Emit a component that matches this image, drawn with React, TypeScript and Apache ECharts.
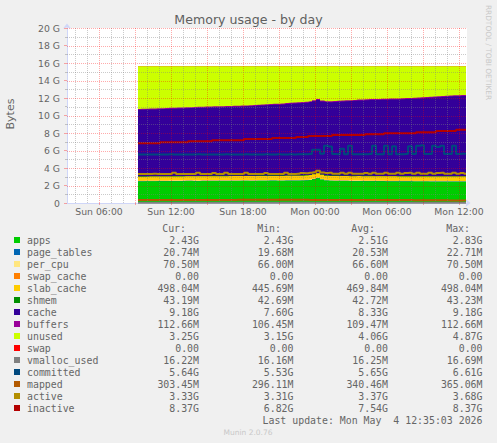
import React, { useEffect, useRef } from "react";
import * as echarts from "echarts";

// ---- time grid (minutes since Sun 00:00), one sample each 20 minutes ----
const START_MIN = 555; // Sun 09:15
const STEP_MIN = 20;
const X_MIN = 200; // Sun 03:20
const X_MAX = 2200; // Mon 12:40
const Y_MIN = 0;
const Y_MAX = 20;

const X_LABEL_VALUES = [360, 720, 1080, 1440, 1800, 2160];
const X_LABELS = ["Sun 06:00", "Sun 12:00", "Sun 18:00", "Mon 00:00", "Mon 06:00", "Mon 12:00"];
const X_MAJOR_GRID = [360, 540, 720, 900, 1080, 1260, 1440, 1620, 1800, 1980, 2160];
const X_MINOR_GRID = [240, 300, 420, 480, 600, 660, 780, 840, 960, 1020, 1140, 1200, 1320, 1380, 1500, 1560, 1680, 1740, 1860, 1920, 2040, 2100];
const Y_TICKS = [0, 2, 4, 6, 8, 10, 12, 14, 16, 18, 20];
const Y_TICK_LABELS = ["0", "2 G", "4 G", "6 G", "8 G", "10 G", "12 G", "14 G", "16 G", "18 G", "20 G"];
const Y_MAJOR_GRID = [2, 4, 6, 8, 10, 12, 14, 16, 18, 20];
const Y_MINOR_GRID = [1, 3, 5, 7, 9, 11, 13, 15, 17, 19];

// ---- series values in GB ----
const APPS = [2.47,2.47,2.48,2.48,2.48,2.49,2.49,2.49,2.50,2.50,
 2.50,2.50,2.51,2.51,2.50,2.50,2.51,2.51,2.52,2.52,
 2.52,2.51,2.51,2.52,2.52,2.52,2.53,2.53,2.52,2.52,
 2.53,2.53,2.53,2.54,2.54,2.53,2.53,2.54,2.54,2.55,
 2.55,2.56,2.58,2.62,2.72,2.83,2.66,2.56,2.53,2.52,
 2.52,2.51,2.51,2.50,2.50,2.50,2.49,2.49,2.49,2.48,
 2.48,2.48,2.47,2.47,2.47,2.46,2.46,2.46,2.46,2.45,
 2.45,2.45,2.45,2.44,2.44,2.44,2.44,2.44,2.43,2.43,
 2.43,2.43,2.43];
const PAGE_TABLES = [0.0200,0.0201,0.0199,0.0198,0.0200,0.0202,0.0201,0.0203,0.0204,0.0202,
 0.0203,0.0205,0.0204,0.0206,0.0205,0.0203,0.0204,0.0206,0.0207,0.0205,
 0.0204,0.0206,0.0208,0.0207,0.0205,0.0206,0.0208,0.0209,0.0207,0.0206,
 0.0205,0.0207,0.0209,0.0208,0.0206,0.0207,0.0209,0.0210,0.0208,0.0207,
 0.0209,0.0211,0.0214,0.0219,0.0224,0.0227,0.0218,0.0212,0.0209,0.0207,
 0.0206,0.0205,0.0207,0.0206,0.0204,0.0205,0.0206,0.0204,0.0203,0.0205,
 0.0206,0.0204,0.0203,0.0205,0.0207,0.0206,0.0204,0.0205,0.0206,0.0207,
 0.0205,0.0204,0.0206,0.0207,0.0205,0.0206,0.0208,0.0207,0.0205,0.0206,
 0.0207,0.0206,0.0207];
const PER_CPU = [0.066,0.066,0.066,0.066,0.066,0.066,0.066,0.066,0.066,0.066,
 0.066,0.066,0.066,0.066,0.066,0.066,0.066,0.066,0.066,0.066,
 0.066,0.066,0.066,0.066,0.066,0.066,0.066,0.066,0.066,0.066,
 0.066,0.066,0.066,0.066,0.066,0.066,0.066,0.066,0.066,0.066,
 0.066,0.066,0.066,0.066,0.066,0.066,0.066,0.066,0.066,0.066,
 0.066,0.066,0.066,0.066,0.066,0.066,0.066,0.066,0.066,0.066,
 0.066,0.066,0.066,0.066,0.066,0.066,0.066,0.066,0.066,0.066,
 0.066,0.066,0.0705,0.0705,0.0705,0.0705,0.0705,0.0705,0.0705,0.0705,
 0.0705,0.0705,0.0705];
const SWAP_CACHE = [0,0,0,0,0,0,0,0,0,0, 0,0,0,0,0,0,0,0,0,0, 0,0,0,0,0,0,0,0,0,0,
 0,0,0,0,0,0,0,0,0,0, 0,0,0,0,0,0,0,0,0,0, 0,0,0,0,0,0,0,0,0,0,
 0,0,0,0,0,0,0,0,0,0, 0,0,0,0,0,0,0,0,0,0, 0,0,0];
const SLAB_CACHE = [0.446,0.447,0.448,0.449,0.450,0.451,0.452,0.452,0.453,0.454,
 0.455,0.455,0.456,0.457,0.458,0.459,0.460,0.460,0.461,0.462,
 0.463,0.463,0.464,0.465,0.466,0.467,0.468,0.468,0.469,0.470,
 0.470,0.471,0.472,0.472,0.473,0.474,0.474,0.475,0.476,0.476,
 0.477,0.477,0.478,0.479,0.479,0.480,0.480,0.481,0.481,0.482,
 0.482,0.483,0.483,0.484,0.484,0.485,0.485,0.486,0.486,0.487,
 0.487,0.488,0.488,0.489,0.489,0.490,0.490,0.491,0.491,0.492,
 0.492,0.493,0.493,0.494,0.494,0.495,0.495,0.496,0.496,0.497,
 0.497,0.498,0.498];
const SHMEM = [0.0427,0.0427,0.0427,0.0427,0.0427,0.0427,0.0427,0.0427,0.0427,0.0427,
 0.0427,0.0427,0.0427,0.0427,0.0427,0.0427,0.0427,0.0427,0.0427,0.0427,
 0.0427,0.0427,0.0427,0.0427,0.0427,0.0426,0.0427,0.0427,0.0427,0.0427,
 0.0427,0.0427,0.0427,0.0427,0.0427,0.0427,0.0427,0.0427,0.0427,0.0427,
 0.0427,0.0427,0.0428,0.0428,0.0429,0.0430,0.0428,0.0427,0.0427,0.0427,
 0.0427,0.0427,0.0427,0.0427,0.0427,0.0427,0.0427,0.0427,0.0427,0.0427,
 0.0427,0.0427,0.0427,0.0427,0.0427,0.0427,0.0427,0.0427,0.0427,0.0427,
 0.0428,0.0428,0.0428,0.0429,0.0429,0.0430,0.0430,0.0431,0.0431,0.0431,
 0.0432,0.0432,0.0432];
const CACHE = [7.60,7.61,7.62,7.63,7.64,7.65,7.66,7.68,7.69,7.70,
 7.71,7.72,7.74,7.75,7.77,7.79,7.80,7.81,7.82,7.83,
 7.84,7.85,7.86,7.87,7.88,7.89,7.90,7.92,7.95,7.98,
 8.00,8.02,8.04,8.06,8.08,8.10,8.13,8.16,8.19,8.21,
 8.24,8.26,8.28,8.30,8.31,8.32,8.34,8.36,8.38,8.41,
 8.44,8.47,8.50,8.53,8.56,8.60,8.62,8.64,8.66,8.67,
 8.68,8.70,8.72,8.73,8.74,8.76,8.78,8.80,8.82,8.84,
 8.86,8.89,8.92,8.95,8.98,9.01,9.04,9.07,9.10,9.13,
 9.15,9.17,9.18];
const BUFFERS = [0.107,0.107,0.107,0.107,0.107,0.107,0.107,0.107,0.107,0.107,
 0.107,0.107,0.108,0.108,0.108,0.108,0.108,0.108,0.108,0.108,
 0.108,0.108,0.108,0.108,0.109,0.109,0.109,0.109,0.109,0.109,
 0.109,0.109,0.109,0.109,0.109,0.109,0.110,0.110,0.110,0.110,
 0.110,0.110,0.110,0.110,0.110,0.110,0.110,0.110,0.111,0.111,
 0.111,0.111,0.111,0.111,0.111,0.111,0.111,0.111,0.111,0.111,
 0.112,0.112,0.112,0.112,0.112,0.112,0.112,0.112,0.112,0.112,
 0.112,0.112,0.113,0.113,0.113,0.113,0.113,0.113,0.113,0.113,
 0.113,0.113,0.113];
const UNUSED = [4.87,4.86,4.84,4.83,4.81,4.79,4.78,4.76,4.74,4.73,
 4.72,4.71,4.68,4.67,4.66,4.63,4.61,4.60,4.58,4.57,
 4.56,4.56,4.55,4.53,4.52,4.50,4.48,4.46,4.44,4.41,
 4.38,4.36,4.34,4.31,4.29,4.28,4.25,4.21,4.18,4.15,
 4.11,4.08,4.04,3.98,3.87,3.75,3.90,3.98,3.99,3.97,
 3.94,3.92,3.89,3.87,3.84,3.80,3.79,3.76,3.74,3.74,
 3.73,3.71,3.70,3.69,3.68,3.67,3.65,3.63,3.61,3.60,
 3.58,3.55,3.51,3.49,3.46,3.43,3.40,3.37,3.35,3.32,
 3.30,3.28,3.26];
const SWAP = [0,0,0,0,0,0,0,0,0,0, 0,0,0,0,0,0,0,0,0,0, 0,0,0,0,0,0,0,0,0,0,
 0,0,0,0,0,0,0,0,0,0, 0,0,0,0,0,0,0,0,0,0, 0,0,0,0,0,0,0,0,0,0,
 0,0,0,0,0,0,0,0,0,0, 0,0,0,0,0,0,0,0,0,0, 0,0,0];
const VMALLOC_USED = [0.0162,0.0162,0.0162,0.0162,0.0162,0.0162,0.0162,0.0162,0.0162,0.0162,
 0.0162,0.0162,0.0162,0.0162,0.0162,0.0162,0.0162,0.0162,0.0162,0.0162,
 0.0162,0.0162,0.0162,0.0162,0.0162,0.0162,0.0162,0.0162,0.0163,0.0162,
 0.0162,0.0162,0.0162,0.0162,0.0162,0.0162,0.0162,0.0162,0.0162,0.0162,
 0.0162,0.0163,0.0164,0.0165,0.0166,0.0167,0.0164,0.0163,0.0162,0.0162,
 0.0162,0.0162,0.0162,0.0162,0.0162,0.0162,0.0162,0.0162,0.0162,0.0162,
 0.0162,0.0162,0.0162,0.0162,0.0162,0.0162,0.0162,0.0162,0.0162,0.0162,
 0.0162,0.0162,0.0162,0.0162,0.0162,0.0162,0.0162,0.0162,0.0162,0.0162,
 0.0162,0.0162,0.0162];
const COMMITTED = [5.55,5.55,5.55,5.54,5.55,5.55,5.55,5.55,5.56,5.55,
 5.55,5.55,5.55,5.55,5.55,5.56,5.55,5.55,5.55,5.55,
 5.55,5.55,5.56,5.55,5.55,5.55,5.55,5.56,5.55,5.55,
 5.55,5.55,5.56,5.55,5.55,5.56,5.55,5.55,5.56,5.55,
 5.56,5.56,5.56,5.60,6.08,6.10,5.62,6.55,6.45,5.60,
 5.58,6.20,5.58,6.55,5.58,5.58,5.58,5.58,5.59,6.55,
 5.58,5.58,6.55,5.58,6.50,5.58,5.58,5.59,6.50,5.59,
 6.55,6.61,5.59,5.60,6.55,6.40,6.55,5.60,5.60,6.55,
 5.61,5.62,5.64];
const MAPPED = [0.330,0.332,0.334,0.335,0.337,0.338,0.340,0.341,0.342,0.343,
 0.344,0.345,0.346,0.347,0.348,0.349,0.350,0.351,0.352,0.353,
 0.354,0.355,0.356,0.356,0.357,0.358,0.358,0.359,0.359,0.360,
 0.360,0.361,0.361,0.362,0.362,0.363,0.363,0.364,0.364,0.365,
 0.365,0.364,0.360,0.350,0.340,0.335,0.338,0.340,0.342,0.343,
 0.344,0.345,0.346,0.346,0.347,0.347,0.348,0.348,0.349,0.349,
 0.350,0.350,0.349,0.348,0.346,0.344,0.340,0.336,0.332,0.328,
 0.324,0.320,0.316,0.312,0.309,0.306,0.304,0.302,0.300,0.298,
 0.297,0.300,0.303];
const ACTIVE = [3.32,3.32,3.32,3.32,3.33,3.32,3.32,3.32,3.32,3.45,
 3.32,3.32,3.32,3.32,3.32,3.46,3.32,3.32,3.32,3.44,
 3.32,3.32,3.45,3.32,3.32,3.32,3.32,3.46,3.32,3.32,
 3.32,3.32,3.44,3.32,3.32,3.32,3.32,3.45,3.32,3.32,
 3.33,3.44,3.40,3.45,3.52,3.68,3.50,3.42,3.46,3.34,
 3.33,3.47,3.33,3.45,3.33,3.33,3.33,3.44,3.33,3.46,
 3.33,3.33,3.46,3.33,3.33,3.45,3.33,3.44,3.46,3.33,
 3.45,3.33,3.33,3.46,3.33,3.44,3.45,3.33,3.33,3.46,
 3.33,3.44,3.33];
const INACTIVE = [6.82,6.82,6.82,6.82,6.82,6.82,6.93,6.93,6.93,6.93,
 6.93,6.93,6.93,7.05,7.05,7.05,7.05,7.05,7.05,7.16,
 7.16,7.16,7.16,7.16,7.16,7.16,7.16,7.32,7.32,7.32,
 7.32,7.32,7.32,7.32,7.43,7.43,7.43,7.43,7.43,7.43,
 7.55,7.55,7.55,7.66,7.66,7.66,7.66,7.66,7.66,7.78,
 7.78,7.78,7.78,7.78,7.78,7.78,7.78,7.85,7.85,7.85,
 7.85,7.85,7.97,7.97,7.97,7.97,7.97,7.97,7.97,7.97,
 8.08,8.08,8.08,8.08,8.08,8.24,8.24,8.24,8.24,8.24,
 8.36,8.37,8.37];

// ---- legend table ----
const NAMES = ["apps", "page_tables", "per_cpu", "swap_cache", "slab_cache", "shmem", "cache", "buffers", "unused", "swap", "vmalloc_used", "committed", "mapped", "active", "inactive"];
const COLORS = ["#00CC00", "#0066B3", "#FFE680", "#FF8000", "#FFCC00", "#008F00", "#330099", "#990099", "#CCFF00", "#FF0000", "#808080", "#00487D", "#B35A00", "#B38F00", "#B30000"];
const CUR = ["2.43G", "20.74M", "70.50M", "0.00", "498.04M", "43.19M", "9.18G", "112.66M", "3.25G", "0.00", "16.22M", "5.64G", "303.45M", "3.33G", "8.37G"];
const MIN = ["2.43G", "19.68M", "66.00M", "0.00", "445.69M", "42.69M", "7.60G", "106.45M", "3.15G", "0.00", "16.16M", "5.53G", "296.11M", "3.31G", "6.82G"];
const AVG = ["2.51G", "20.53M", "66.60M", "0.00", "469.84M", "42.72M", "8.33G", "109.47M", "4.06G", "0.00", "16.25M", "5.65G", "340.46M", "3.37G", "7.54G"];
const MAX = ["2.83G", "22.71M", "70.50M", "0.00", "498.04M", "43.23M", "9.18G", "112.66M", "4.87G", "0.00", "16.69M", "6.61G", "365.06M", "3.68G", "8.37G"];
const HEADERS = ["Cur:", "Min:", "Avg:", "Max:"];
const TITLE = "Memory usage - by day";
const LAST_UPDATE = "Last update: Mon May  4 12:35:03 2026";

const AREA_SERIES = [APPS, PAGE_TABLES, PER_CPU, SWAP_CACHE, SLAB_CACHE, SHMEM, CACHE, BUFFERS, UNUSED, SWAP];
const LINE_SERIES = [VMALLOC_USED, COMMITTED, MAPPED, ACTIVE, INACTIVE];

const TIMES = APPS.map((_, i) => START_MIN + STEP_MIN * i);

const FONT = "DejaVu Sans";
const MONO = "DejaVu Sans Mono";
const TEXT_COLOR = "#666666";
const AXIS_COLOR = "#CFD6F8";
const MAJOR_GRID_COLOR = "rgba(255,0,0,0.33)";
const MINOR_GRID_COLOR = "rgba(128,128,128,0.42)";

function buildOption() {
  // cumulative tops of the stacked areas (Munin AREA + STACK)
  const tops: number[][] = [];
  AREA_SERIES.forEach((vals, k) => {
    tops.push(vals.map((v, i) => (k === 0 ? 0 : tops[k - 1][i]) + v));
  });

  const series: any[] = [];
  // draw highest cumulative first so lower bands paint over it
  for (let k = AREA_SERIES.length - 1; k >= 0; k--) {
    series.push({
      name: NAMES[k],
      type: "line",
      step: "middle",
      showSymbol: false,
      symbol: "none",
      silent: true,
      z: 2,
      lineStyle: { width: 0, color: COLORS[k] },
      areaStyle: { color: COLORS[k], opacity: 1, origin: "start" },
      emphasis: { disabled: true },
      data: TIMES.map((t, i) => [t, tops[k][i]]),
    });
  }
  LINE_SERIES.forEach((vals, j) => {
    const k = AREA_SERIES.length + j;
    series.push({
      name: NAMES[k],
      type: "line",
      step: "middle",
      showSymbol: false,
      symbol: "none",
      silent: true,
      z: 3,
      lineStyle: { width: 2, color: COLORS[k] },
      emphasis: { disabled: true },
      data: TIMES.map((t, i) => [t, vals[i]]),
    });
  });

  const gridData: number[][] = [];
  X_MAJOR_GRID.forEach((v) => gridData.push([v, Y_MIN, 0, 1]));
  X_MINOR_GRID.forEach((v) => gridData.push([v, Y_MIN, 0, 0]));
  Y_MAJOR_GRID.forEach((v) => gridData.push([X_MIN, v, 1, 1]));
  Y_MINOR_GRID.forEach((v) => gridData.push([X_MIN, v, 1, 0]));

  series.push({
    type: "custom",
    silent: true,
    z: 10,
    data: gridData,
    renderItem: (_params: any, api: any) => {
      const kind = api.value(2);
      const major = api.value(3);
      let x1, y1, x2, y2;
      if (kind === 0) {
        const v = api.value(0);
        const a = api.coord([v, Y_MIN]);
        const b = api.coord([v, Y_MAX]);
        x1 = x2 = Math.round(a[0]) + 0.5;
        y1 = a[1];
        y2 = b[1];
      } else {
        const v = api.value(1);
        const a = api.coord([X_MIN, v]);
        const b = api.coord([X_MAX, v]);
        y1 = y2 = Math.round(a[1]) + 0.5;
        x1 = a[0];
        x2 = b[0];
      }
      return {
        type: "line",
        shape: { x1, y1, x2, y2 },
        style: {
          stroke: major ? MAJOR_GRID_COLOR : MINOR_GRID_COLOR,
          lineWidth: 1,
          lineDash: [1, 1],
          fill: null,
        },
      };
    },
  });

  const graphics: any[] = [];
  const txt = (x: number, y: number, text: string, o: any = {}) => ({
    type: "text",
    x,
    y,
    rotation: o.rotation || 0,
    silent: true,
    style: {
      text,
      fill: o.fill || TEXT_COLOR,
      fontSize: o.size || 9.9,
      fontFamily: o.family || MONO,
      textAlign: o.align || "left",
      align: o.align || "left",
      textVerticalAlign: "middle",
      verticalAlign: "middle",
    },
  });

  graphics.push(txt(248.5, 19.5, TITLE, { size: 12.6, family: FONT, align: "center", fill: "#5f5f5f" }));
  graphics.push(txt(10.5, 114, "Bytes", { size: 11, family: FONT, align: "center", rotation: Math.PI / 2 }));
  graphics.push(txt(488, 52.5, "RRDTOOL / TOBI OETIKER", { size: 7.4, family: FONT, align: "center", rotation: -Math.PI / 2, fill: "#c8c8c8" }));

  const headerX = [186, 281, 375, 470];
  HEADERS.forEach((h, c) => graphics.push(txt(headerX[c], 228, h, { align: "right" })));
  const colX = [199, 293.5, 388, 482.5];
  NAMES.forEach((name, r) => {
    const y = 240 + 12 * r;
    graphics.push({ type: "rect", silent: true, shape: { x: 14, y: y - 3, width: 6, height: 6 }, style: { fill: COLORS[r] } });
    graphics.push(txt(27, y, name));
    [CUR, MIN, AVG, MAX].forEach((col, c) => graphics.push(txt(colX[c], y, col[r], { align: "right" })));
  });
  graphics.push(txt(482.5, 420, LAST_UPDATE, { align: "right" }));
  graphics.push(txt(248, 432, "Munin 2.0.76", { size: 7.5, family: FONT, align: "center", fill: "#c8c8c8" }));

  return {
    animation: false,
    backgroundColor: "#F0F0F0",
    grid: { left: 67, top: 28, width: 400, height: 175, show: true, backgroundColor: "#FFFFFF", borderWidth: 0, containLabel: false },
    xAxis: {
      type: "value",
      min: X_MIN,
      max: X_MAX,
      splitLine: { show: false },
      axisLine: { show: true, lineStyle: { color: AXIS_COLOR, width: 1 }, symbol: ["none", "arrow"], symbolSize: [6, 5], symbolOffset: [0, 3.5] },
      axisTick: { show: true, customValues: X_MAJOR_GRID, length: 2, lineStyle: { color: MAJOR_GRID_COLOR } },
      axisLabel: {
        customValues: X_LABEL_VALUES,
        formatter: (v: number) => {
          const i = X_LABEL_VALUES.indexOf(v);
          return i >= 0 ? X_LABELS[i] : "";
        },
        fontSize: 9.3,
        fontFamily: FONT,
        color: TEXT_COLOR,
        margin: 4,
      },
    },
    yAxis: {
      type: "value",
      min: Y_MIN,
      max: Y_MAX,
      interval: 2,
      splitLine: { show: false },
      axisLine: { show: true, lineStyle: { color: AXIS_COLOR, width: 1 }, symbol: ["none", "arrow"], symbolSize: [6, 5], symbolOffset: [0, 4.5] },
      axisTick: { show: true, length: 3, lineStyle: { color: MAJOR_GRID_COLOR } },
      minorTick: { show: true, splitNumber: 2, length: 2, lineStyle: { color: MINOR_GRID_COLOR } },
      axisLabel: {
        formatter: (v: number) => {
          const i = Y_TICKS.indexOf(v);
          return i >= 0 ? Y_TICK_LABELS[i] : "";
        },
        fontSize: 9.3,
        fontFamily: FONT,
        color: TEXT_COLOR,
        margin: 7,
      },
    },
    series,
    graphic: { elements: graphics },
  };
}

export default function App() {
  const ref = useRef<HTMLDivElement>(null);
  useEffect(() => {
    if (!ref.current) return;
    const chart = echarts.init(ref.current, null, { renderer: "svg" });
    chart.setOption(buildOption() as any);
    return () => chart.dispose();
  }, []);
  return <div ref={ref} style={{ position: "absolute", left: 0, top: 0, width: 497, height: 443 }} />;
}
